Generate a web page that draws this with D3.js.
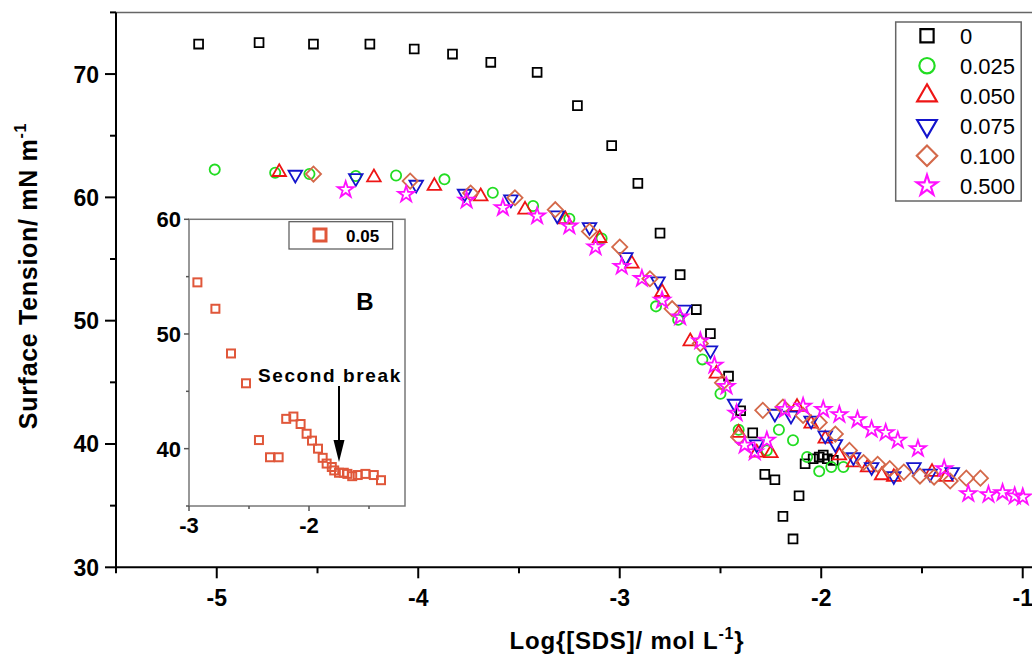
<!DOCTYPE html>
<html><head><meta charset="utf-8">
<script src="https://cdn.jsdelivr.net/npm/d3@7"></script>
<style>body{margin:0;background:#fff}svg{display:block;font-family:"Liberation Sans",Arial,sans-serif}</style>
</head><body><svg id="c" width="1032" height="665"></svg>
<script>
// ---- data ----
const seriesNames = ["0","0.025","0.050","0.075","0.100","0.500"];
const x0   = [-5.09,-4.79,-4.52,-4.24,-4.02,-3.83,-3.64,-3.41,-3.21,-3.04,-2.91,-2.80,-2.70,-2.62,-2.55,-2.46,-2.40,-2.34,-2.28,-2.23,-2.19,-2.14,-2.11,-2.08,-2.04,-2.01,-1.99,-1.97,-1.94];
const y0   = [72.43,72.55,72.43,72.43,72.03,71.62,70.95,70.14,67.44,64.2,61.14,57.1,53.73,50.9,48.95,45.5,42.7,40.9,37.54,37.1,34.13,32.3,35.8,38.4,38.8,38.94,39.1,38.8,38.67];
const x025 = [-5.01,-4.71,-4.54,-4.31,-4.11,-3.87,-3.63,-3.43,-3.25,-3.09,-2.82,-2.71,-2.59,-2.50,-2.41,-2.27,-2.21,-2.14,-2.07,-2.01,-1.95,-1.89];
const y025 = [62.25,62.0,61.9,61.73,61.78,61.46,60.38,59.3,58.27,56.67,51.16,50.08,46.86,44.08,41.16,39.48,41.16,40.3,38.94,37.78,38.13,38.13];
const x050 = [-4.69,-4.22,-3.92,-3.69,-3.47,-3.27,-3.10,-2.94,-2.79,-2.65,-2.52,-2.41,-2.32,-2.25,-2.12,-2.05,-1.98,-1.91,-1.84,-1.77,-1.70,-1.64,-1.45,-1.38];
const y050 = [62.05,61.62,60.92,60.08,59.0,58.22,56.7,54.62,52.32,48.32,45.7,40.9,39.3,39.26,43.0,41.65,40.43,39.07,38.5,38.1,37.46,37.32,37.73,37.32];
const x075 = [-4.61,-4.31,-4.01,-3.77,-3.54,-3.31,-3.15,-2.97,-2.81,-2.68,-2.55,-2.43,-2.32,-2.23,-2.15,-2.05,-1.98,-1.93,-1.84,-1.75,-1.64,-1.54,-1.46,-1.35];
const y075 = [61.84,61.57,61.03,60.3,59.84,58.54,57.6,55.16,53.19,50.9,47.6,43.27,39.97,42.46,42.3,41.9,40.7,40.0,38.93,38.13,37.4,38.13,37.6,37.73];
const x100 = [-4.52,-4.04,-3.74,-3.52,-3.32,-3.15,-3.00,-2.85,-2.74,-2.60,-2.49,-2.41,-2.29,-2.19,-2.09,-2.01,-1.93,-1.86,-1.79,-1.72,-1.66,-1.59,-1.51,-1.44,-1.36,-1.28,-1.21];
const y100 = [61.89,61.32,60.35,59.97,59.0,57.24,55.97,53.4,50.97,48.14,44.97,40.56,42.73,43.0,42.32,41.75,40.8,39.48,38.5,38.35,38.0,37.72,37.4,37.32,37.0,37.23,37.23];
const x500 = [-4.36,-4.06,-3.76,-3.58,-3.41,-3.25,-3.12,-2.99,-2.89,-2.79,-2.70,-2.60,-2.53,-2.47,-2.42,-2.38,-2.33,-2.27,-2.18,-2.09,-1.99,-1.91,-1.82,-1.75,-1.68,-1.62,-1.52,-1.39,-1.27,-1.17,-1.10,-1.04,-1.00];
const y500 = [60.62,60.24,59.76,59.16,58.48,57.67,55.97,54.4,53.41,51.65,50.29,48.35,46.38,44.67,42.5,39.9,39.35,40.3,42.8,43.05,42.8,42.38,41.97,41.18,40.92,40.3,39.62,38.0,35.97,35.89,36.05,35.78,35.7];
// inset (0.05)
const insetX = [-2.93,-2.78,-2.65,-2.525,-2.417,-2.325,-2.253,-2.19,-2.13,-2.07,-2.02,-1.975,-1.925,-1.886,-1.853,-1.81,-1.79,-1.75,-1.71,-1.68,-1.64,-1.594,-1.53,-1.46,-1.40];
const insetY = [54.5,52.2,48.3,45.7,40.75,39.25,39.25,42.6,42.8,42.15,41.3,40.7,40.0,39.2,38.7,38.4,38.1,37.9,37.9,37.8,37.6,37.7,37.8,37.7,37.25];
const xTicks = [-5,-4,-3,-2,-1];
const yTicks = [30,40,50,60,70];
const insetXTicks = [-3,-2];
const insetYTicks = [40,50,60];

// ---- drawing ----
const svg = d3.select("#c");
const F = '"Liberation Sans",Arial,sans-serif';
const x = d3.scaleLinear().domain([-5.5,-0.95]).range([116,1032.8]);
const y = d3.scaleLinear().domain([30,75]).range([567.3,12.4]);

const colors = ["#000000","#22dd22","#ee1515","#1414cc","#d4694a","#ff10ff"];
const sets = [[x0,y0],[x025,y025],[x050,y050],[x075,y075],[x100,y100],[x500,y500]];
function marker(g,i,cx,cy,col,s){
  s = s||1;
  const sw = 1.8*(s>1?1.2:1);
  const sizes=[78,82,80,80,115,80];
  const sz = sizes[i]*s*s;
  let d, rot=0;
  if(i===0) d=d3.symbol(d3.symbolSquare,sz)();
  else if(i===1) d=d3.symbol(d3.symbolCircle,sz)();
  else if(i===2) d=d3.symbol(d3.symbolTriangle,sz)();
  else if(i===3){ d=d3.symbol(d3.symbolTriangle,sz)(); rot=180; }
  else if(i===4){ d=d3.symbol(d3.symbolSquare,sz)(); rot=45; }
  else d=d3.symbol(d3.symbolStar,sz)();
  g.append("path").attr("d",d).attr("transform",`translate(${cx},${cy}) rotate(${rot})`)
    .attr("fill","none").attr("stroke",col).attr("stroke-width",sw);
}

// frame top
svg.append("line").attr("x1",116).attr("x2",1032).attr("y1",12.4).attr("y2",12.4).attr("stroke","#666").attr("stroke-width",1.5);

// axes
const xAxis = svg.append("g").attr("transform","translate(0,567.3)");
xAxis.append("line").attr("x1",116).attr("x2",1032).attr("stroke","#000").attr("stroke-width",2);
d3.range(-5.5,-0.9,0.5).forEach(v=>{
  const major = Math.abs(v-Math.round(v))<1e-6;
  xAxis.append("line").attr("x1",x(v)).attr("x2",x(v)).attr("y1",0).attr("y2",major?11:6).attr("stroke","#000").attr("stroke-width",2);
});
xAxis.selectAll("text.t").data(xTicks).join("text").attr("class","t")
  .attr("x",d=>x(d)).attr("y",39).attr("text-anchor","middle")
  .attr("font-size",23).attr("font-weight","bold").attr("font-family",F).text(d=>d);

const yAxis = svg.append("g").attr("transform","translate(116,0)");
yAxis.append("line").attr("y1",12.4).attr("y2",567.3).attr("stroke","#000").attr("stroke-width",2);
d3.range(30,75.1,5).forEach(v=>{
  const major = v%10===0;
  yAxis.append("line").attr("x1",0).attr("x2",major?-11:-6).attr("y1",y(v)).attr("y2",y(v)).attr("stroke","#000").attr("stroke-width",2);
});
yAxis.selectAll("text.t").data(yTicks).join("text").attr("class","t")
  .attr("x",-17).attr("y",d=>y(d)+8.5).attr("text-anchor","end")
  .attr("font-size",23).attr("font-weight","bold").attr("font-family",F).text(d=>d);

// axis titles
const yt = svg.append("text").attr("transform","translate(37,276) rotate(-90)").attr("text-anchor","middle")
  .attr("font-size",25).attr("font-weight","bold").attr("letter-spacing",0.7).attr("font-family",F);
yt.append("tspan").text("Surface Tension/ mN m");
yt.append("tspan").attr("dy",-11).attr("font-size",16).text("-1");
const xt = svg.append("text").attr("x",627).attr("y",649).attr("text-anchor","middle")
  .attr("font-size",24).attr("font-weight","bold").attr("letter-spacing",0.8).attr("font-family",F);
xt.append("tspan").text("Log{[SDS]/ mol L");
xt.append("tspan").attr("dy",-10).attr("font-size",16).text("-1");
xt.append("tspan").attr("dy",10).text("}");

// data points
const plot = svg.append("g");
sets.forEach((s,i)=>{
  s[0].forEach((xv,j)=>marker(plot,i,x(xv),y(s[1][j]),colors[i]));
});

// legend
const lg = svg.append("g");
lg.append("rect").attr("x",895.7).attr("y",22).attr("width",125.5).attr("height",179).attr("fill","#fff").attr("stroke","#666").attr("stroke-width",1.5);
const legScale = [1.5,1.5,1.45,1.45,1.35,1.3];
seriesNames.forEach((n,i)=>{
  const cy = 35.7 + i*30;
  marker(lg,i,927,cy,colors[i],legScale[i]);
  lg.append("text").attr("x",960).attr("y",cy+8).attr("font-size",22).attr("font-family",F).text(n);
});

// inset
const ix = d3.scaleLinear().domain([-3,-1.2]).range([189,405]);
const iy = d3.scaleLinear().domain([35,60]).range([506,219.3]);
const ins = svg.append("g");
ins.append("rect").attr("x",189).attr("y",219.3).attr("width",216).attr("height",286.7).attr("fill","#fff").attr("stroke","#777").attr("stroke-width",1.5);
[-3,-2.5,-2,-1.5].forEach(v=>{
  ins.append("line").attr("x1",ix(v)).attr("x2",ix(v)).attr("y1",506).attr("y2",Number.isInteger(v)?511:509).attr("stroke","#555").attr("stroke-width",1.5);
});
[35,40,45,50,55,60].forEach(v=>{
  ins.append("line").attr("x1",189).attr("x2",v%10===0?184:186).attr("y1",iy(v)).attr("y2",iy(v)).attr("stroke","#555").attr("stroke-width",1.5);
});
ins.selectAll("text.xt").data(insetXTicks).join("text").attr("class","xt")
  .attr("x",d=>ix(d)).attr("y",533).attr("text-anchor","middle").attr("font-size",22).attr("font-weight","bold").attr("font-family",F).text(d=>d);
ins.selectAll("text.yt").data(insetYTicks).join("text").attr("class","yt")
  .attr("x",181).attr("y",d=>iy(d)+8).attr("text-anchor","end").attr("font-size",22).attr("font-weight","bold").attr("font-family",F).text(d=>d);
insetX.forEach((xv,j)=>{
  ins.append("rect").attr("x",ix(xv)-4).attr("y",iy(insetY[j])-4).attr("width",8).attr("height",8)
    .attr("fill","none").attr("stroke","#e0573a").attr("stroke-width",2);
});
// inset legend
ins.append("rect").attr("x",289).attr("y",221.7).attr("width",103.7).attr("height",27.3).attr("fill","#fff").attr("stroke","#555").attr("stroke-width",1.2);
ins.append("rect").attr("x",314).attr("y",229).attr("width",12).attr("height",12).attr("fill","none").attr("stroke","#e0573a").attr("stroke-width",3);
ins.append("text").attr("x",346).attr("y",241.5).attr("font-size",17).attr("font-weight","bold").attr("font-family",F).text("0.05");
ins.append("text").attr("x",365).attr("y",310).attr("text-anchor","middle").attr("font-size",24).attr("font-weight","bold").attr("font-family",F).text("B");
ins.append("text").attr("x",258).attr("y",382).attr("font-size",19).attr("font-weight","bold").attr("letter-spacing",1.6).attr("font-family",F).text("Second break");
// arrow
ins.append("line").attr("x1",ix(-1.75)).attr("x2",ix(-1.75)).attr("y1",386).attr("y2",445).attr("stroke","#000").attr("stroke-width",2);
ins.append("path").attr("d",`M${ix(-1.75)-5.5},440 L${ix(-1.75)+5.5},440 L${ix(-1.75)},462 Z`).attr("fill","#000");
</script></body></html>
